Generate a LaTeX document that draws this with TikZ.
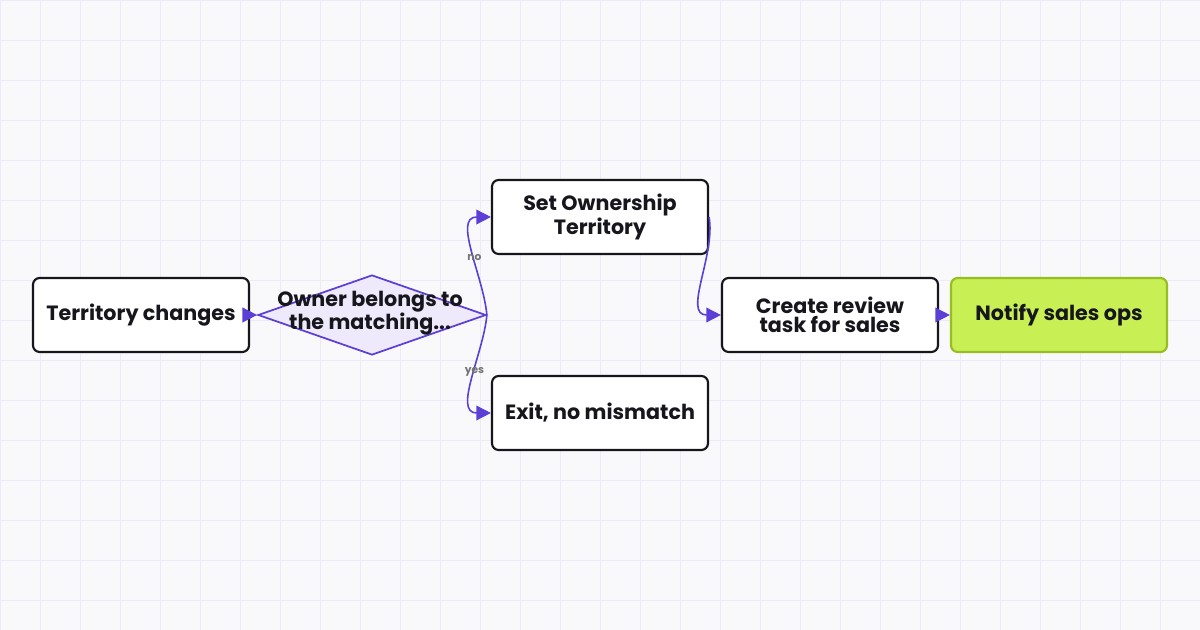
\documentclass[tikz,border=0pt]{standalone}
\usepackage{fontspec}
\setmainfont{Poppins}
\usetikzlibrary{shapes.geometric,arrows.meta}
\definecolor{bg}{HTML}{F9F9FC}
\definecolor{gridc}{HTML}{ECEAF6}
\definecolor{pur}{HTML}{5B3FD6}
\definecolor{lav}{HTML}{EEEAFB}
\definecolor{lime}{HTML}{C8F055}
\definecolor{limeb}{HTML}{97BD22}
\definecolor{ink}{HTML}{16161C}
\tikzset{
 box/.style={draw=ink,line width=1.6pt,rounded corners=5pt,fill=white,minimum width=162pt,minimum height=55.5pt,align=center,font=\bfseries\fontsize{15.5}{14}\selectfont,text=ink,inner sep=0pt},
 dec/.style={diamond,draw=pur,line width=1.3pt,fill=lav,minimum width=171pt,minimum height=60pt,inner sep=0pt,aspect=2.85},
 conn/.style={draw=pur,line width=1.2pt,-{Triangle[length=11pt,width=11pt]}},
 lbl/.style={font=\bfseries\fontsize{8}{9}\selectfont,text=gray!90!black}
}
\begin{document}
\begin{tikzpicture}[x=0.75pt,y=-0.75pt]
\fill[bg] (0,0) rectangle (1200,630);
\useasboundingbox (0,0) rectangle (1200,630);
\foreach \i in {0,40,...,1200} \draw[gridc,line width=0.6pt] (\i,0) -- (\i,630);
\foreach \j in {0,40,...,600} \draw[gridc,line width=0.6pt] (0,\j) -- (1200,\j);
\node[box] (a) at (141,315) {Territory changes};
\node[dec] (d) at (372,315) {};
\node[align=center,font=\bfseries\fontsize{15.5}{14}\selectfont,text=ink] (dt) at (370,313) {Owner belongs to\\the matching...};
\node[box] (s) at (600,217) {Set Ownership\\Territory};
\node[box] (e) at (600,413) {Exit, no mismatch};
\node[box] (c) at (830,315) {Create review\\task for sales};
\node[box,fill=lime,draw=limeb] (n) at (1059,315) {Notify sales ops};
\draw[conn] (a.east) -- (d.west);
\draw[conn] (d.east) to[out=95,in=180] node[lbl,pos=0.45,fill=none] (l1) {no} (s.west);
\draw[conn] (d.east) to[out=-95,in=180] node[lbl,pos=0.45] (l2) {yes} (e.west);
\draw[conn] (s.east) to[out=-80,in=180] (c.west);
\draw[conn] (c.east) -- (n.west);
\end{tikzpicture}
\end{document}
